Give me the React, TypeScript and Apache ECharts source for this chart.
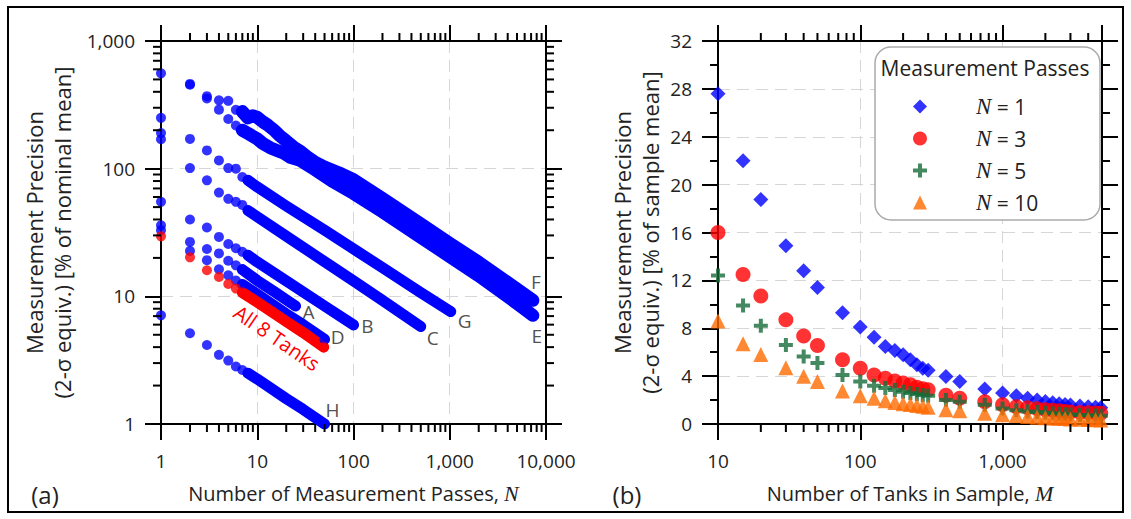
import React, { useEffect, useRef } from 'react';
import * as echarts from 'echarts';

// ---------------- Panel (a): precision vs number of passes N ----------------
const tankA_pts = [[1, 36], [2, 26.7], [3, 23.5], [4, 21.7], [5, 19], [6, 17.5], [7, 16.2]];
const tankA_band = [[7, 16.2], [10, 13.3], [15, 10.9], [20, 9.4], [25, 8.4]];
const tankB_pts = [[1, 55], [2, 40], [3, 34.6], [4, 29.2], [5, 25.7], [6, 23.8], [7, 22.3], [8, 21]];
const tankB_band = [[8, 21], [10, 18.6], [20, 13.2], [50, 8.4], [100, 5.97]];
const tankC_pts = [[1, 170], [2, 101], [3, 81], [4, 65], [5, 58], [6, 55], [7, 52], [8, 47]];
const tankC_band = [[8, 47], [10, 42], [20, 29.6], [50, 18.7], [100, 13.2], [200, 9.3], [499, 5.8]];
const tankD_pts = [[1, 33], [2, 22.7], [3, 19.2], [4, 16.3], [5, 14.6], [6, 13.3], [7, 12.4]];
const tankD_band = [[7, 12.4], [10, 10.4], [20, 7.3], [30, 6.0], [50, 4.6]];
const tankE_pts = [[1, 190], [2, 455], [3, 355], [4, 290], [5, 245], [6, 218], [7, 200]];
const tankE_band = [[7, 200], [8, 189], [10, 171], [11.5, 157], [13.6, 146], [16, 139], [19, 132], [22, 123], [28, 116], [40, 98], [60, 80], [100, 64], [200, 46], [500, 29], [1000, 20.5], [2000, 14.5], [5000, 8.8], [7300, 7.1]];
const tankF_pts = [[1, 558], [2, 461], [3, 370], [4, 343], [5, 340], [6, 289], [7, 280]];
const tankF_band = [[7, 280], [8, 250], [9, 260], [10, 252], [11.5, 232], [13, 218], [15, 200], [17, 182], [20, 165], [24, 147], [28, 137], [33, 124], [40, 112], [50, 103], [70, 93], [100, 82], [200, 58.5], [500, 37], [1000, 26], [2000, 18.5], [5000, 11.4], [7300, 9.3]];
const tankG_pts = [[1, 250], [2, 171], [3, 139], [4, 116], [5, 101], [6, 100], [7, 86], [8, 81]];
const tankG_band = [[8, 81], [10, 72], [20, 51], [50, 33], [100, 23.5], [200, 16.8], [500, 10.7], [1024, 7.6]];
const tankH_pts = [[1, 7.1], [2, 5.14], [3, 4.16], [4, 3.48], [5, 3.14], [6, 2.82], [7, 2.65], [8, 2.5]];
const tankH_band = [[8, 2.5], [10, 2.25], [20, 1.58], [30, 1.3], [50, 1.0]];
const all8_pts = [[1, 29.5], [2, 20.2], [3, 16.0], [4, 14.2], [5, 12.5], [6, 11.5], [7, 10.7]];
const all8_band = [[7, 10.7], [10, 9.0], [20, 6.35], [30, 5.2], [49, 4.0]];

const tankLabels = ['A', 'B', 'C', 'D', 'E', 'F', 'G', 'H'];

// ---------------- Panel (b): precision vs number of tanks M ----------------
const tankCounts = [10, 15, 20, 30, 40, 50, 75, 100, 125, 150, 175, 200, 225, 250, 275, 300, 400, 500, 750, 1000, 1250, 1500, 1750, 2000, 2250, 2500, 2750, 3000, 3500, 4000, 4500, 4900];
const precN1 = [27.6, 22.0, 18.75, 14.9, 12.8, 11.4, 9.3, 8.1, 7.25, 6.47, 6.14, 5.78, 5.36, 4.94, 4.65, 4.5, 3.97, 3.55, 2.92, 2.58, 2.35, 2.15, 2.0, 1.88, 1.78, 1.7, 1.63, 1.58, 1.5, 1.45, 1.4, 1.35];
const precN3 = [16.0, 12.5, 10.7, 8.7, 7.36, 6.55, 5.36, 4.66, 4.1, 3.83, 3.6, 3.42, 3.28, 3.08, 2.95, 2.86, 2.4, 2.15, 1.85, 1.6, 1.45, 1.35, 1.27, 1.2, 1.15, 1.1, 1.05, 1.0, 0.97, 0.95, 0.92, 0.9];
const precN5 = [12.4, 9.9, 8.2, 6.6, 5.65, 5.1, 4.1, 3.55, 3.2, 3.0, 2.85, 2.7, 2.6, 2.5, 2.42, 2.35, 2.0, 1.85, 1.6, 1.3, 1.15, 1.05, 1.0, 0.95, 0.9, 0.85, 0.82, 0.8, 0.75, 0.72, 0.7, 0.68];
const precN10 = [8.6, 6.7, 5.8, 4.7, 4.0, 3.55, 2.75, 2.35, 2.15, 1.95, 1.8, 1.7, 1.62, 1.55, 1.48, 1.4, 1.2, 1.1, 0.9, 0.78, 0.7, 0.62, 0.57, 0.52, 0.5, 0.47, 0.45, 0.42, 0.4, 0.37, 0.35, 0.33];
const passNames = ['N = 1', 'N = 3', 'N = 5', 'N = 10'];

// axis minor tick values (log axes)
const minorTicksA_x = [2, 3, 4, 5, 6, 7, 8, 9, 20, 30, 40, 50, 60, 70, 80, 90, 200, 300, 400, 500, 600, 700, 800, 900, 2000, 3000, 4000, 5000, 6000, 7000, 8000, 9000];
const minorTicksA_y = [2, 3, 4, 5, 6, 7, 8, 9, 20, 30, 40, 50, 60, 70, 80, 90, 200, 300, 400, 500, 600, 700, 800, 900];
const minorTicksB_x = [20, 30, 40, 50, 60, 70, 80, 90, 200, 300, 400, 500, 600, 700, 800, 900, 2000, 3000, 4000];

const FONT = "'Open Sans', 'Noto Sans', sans-serif";
const SERIF = "'Liberation Serif', 'DejaVu Serif', serif";
const TXT = '#222';
const BLUE = '#0000FF';
const RED = '#FF0000';
const GREEN = '#176B38';
const ORANGE = '#FF6A00';
const PLUS = 'path://M5,0H9V5H14V9H9V14H5V9H0V5H5Z';

const fmtLog = (v: number) => {
  const l = Math.log10(v);
  if (Math.abs(l - Math.round(l)) > 1e-6) return '';
  return Math.round(v).toLocaleString('en-US');
};

const mkAxisLine = () => ({ show: true, onZero: false, lineStyle: { color: '#000', width: 2 } });
const mkTick = () => ({ show: true, length: 16, lineStyle: { color: '#000', width: 2 } });
const mkMinor = () => ({ show: true, splitNumber: 2, length: 8, lineStyle: { color: '#000', width: 2 } });
const mkGrid = () => ({ show: true, lineStyle: { color: '#d6d6d6', width: 1, type: [12, 7] } });
const labelStyle = { fontFamily: FONT, fontSize: 19, color: TXT };
const mkName = (size: number) => ({
  fontFamily: FONT, fontSize: size, color: TXT, lineHeight: 28,
  rich: { n: { fontFamily: SERIF, fontStyle: 'italic', fontSize: size + 2, color: TXT } },
});

function tankSeries(name: string, pts: number[][], band: number[][], color: string, width: number, endLabel: any) {
  const end = band[band.length - 1];
  return [
    {
      name: name + ' trace', type: 'line', xAxisIndex: 0, yAxisIndex: 0, data: band,
      showSymbol: false, symbol: 'none', silent: true, z: 2,
      lineStyle: { color, width, cap: 'round', join: 'round' },
    },
    {
      name, type: 'scatter', xAxisIndex: 0, yAxisIndex: 0, symbol: 'circle', symbolSize: 10, silent: true, z: 3,
      itemStyle: { color },
      data: [...pts.map((p) => ({ value: p })), { value: end, label: endLabel }],
    },
  ];
}

const lbl = (text: string, offset: number[]) => ({
  show: !!text, position: 'inside', formatter: text, offset,
  fontFamily: FONT, fontSize: 19, color: TXT,
});

const rightSeries = [precN1, precN3, precN5, precN10].map((arr, i) => ({
  name: passNames[i],
  type: 'scatter', xAxisIndex: 2, yAxisIndex: 2, silent: true, z: 3 + i,
  symbol: ['diamond', 'circle', PLUS, 'triangle'][i],
  symbolSize: [15, 15, 14, 15][i],
  itemStyle: { color: [BLUE, RED, GREEN, ORANGE][i] },
  data: tankCounts.map((m, j) => [m, arr[j]]),
}));

const baseGraphic: any[] = [
  { type: 'rect', z: 8, silent: true, shape: { x: 8, y: 7, width: 1115, height: 505 }, style: { fill: 'none', stroke: '#000', lineWidth: 2 } },
  { type: 'rect', z: 8, silent: true, shape: { x: 875, y: 47, width: 225, height: 173, r: 16 }, style: { fill: '#fff', stroke: '#aaa', lineWidth: 1.5 } },
  { type: 'text', z: 9, x: 985, y: 68, style: { text: 'Measurement Passes', font: `21px ${FONT}`, fill: TXT, textAlign: 'center', textVerticalAlign: 'middle' } },
  { type: 'text', z: 9, x: 45, y: 494, style: { text: '(a)', font: `24px ${FONT}`, fill: TXT, textAlign: 'center', textVerticalAlign: 'middle' } },
  { type: 'text', z: 9, x: 627, y: 494, style: { text: '(b)', font: `24px ${FONT}`, fill: TXT, textAlign: 'center', textVerticalAlign: 'middle' } },
  { type: 'text', z: 9, x: 277, y: 338, rotation: -0.6, style: { text: 'All 8 Tanks', font: `20px ${FONT}`, fill: RED, textAlign: 'center', textVerticalAlign: 'middle' } },
];

const option: any = {
  animation: false,
  backgroundColor: '#fff',
  grid: [
    { left: 161, top: 41, width: 385, height: 383, outerBoundsMode: 'none' },
    { left: 718, top: 41, width: 384, height: 383, outerBoundsMode: 'none' },
  ],
  xAxis: [
    {
      gridIndex: 0, type: 'log', logBase: 10, min: 1, max: 10000, position: 'bottom',
      axisLine: mkAxisLine(), axisTick: mkTick(), splitLine: mkGrid(),
      axisLabel: { ...labelStyle, margin: 27, formatter: fmtLog },
      name: 'Number of Measurement Passes, {n|N}', nameLocation: 'middle', nameGap: 55, nameTextStyle: mkName(20),
    },
    {
      gridIndex: 0, type: 'log', logBase: 10, min: 1, max: 10000, position: 'top',
      axisLine: mkAxisLine(), axisTick: mkTick(), splitLine: { show: false }, axisLabel: { show: false },
    },
    {
      gridIndex: 1, type: 'log', logBase: 10, min: 10, max: 5000, position: 'bottom',
      axisLine: mkAxisLine(), axisTick: mkTick(), splitLine: mkGrid(),
      axisLabel: { ...labelStyle, margin: 27, formatter: fmtLog },
      name: 'Number of Tanks in Sample, {n|M}', nameLocation: 'middle', nameGap: 55, nameTextStyle: mkName(20),
    },
    {
      gridIndex: 1, type: 'log', logBase: 10, min: 10, max: 5000, position: 'top',
      axisLine: mkAxisLine(), axisTick: mkTick(), splitLine: { show: false }, axisLabel: { show: false },
    },
  ],
  yAxis: [
    {
      gridIndex: 0, type: 'log', logBase: 10, min: 1, max: 1000, position: 'left',
      axisLine: mkAxisLine(), axisTick: mkTick(), splitLine: mkGrid(),
      axisLabel: { ...labelStyle, margin: 26, formatter: fmtLog },
      name: 'Measurement Precision\n(2-σ equiv.) [% of nominal mean]', nameLocation: 'middle', nameRotate: 90,
      nameGap: 85, nameTextStyle: mkName(22),
    },
    {
      gridIndex: 0, type: 'log', logBase: 10, min: 1, max: 1000, position: 'right',
      axisLine: mkAxisLine(), axisTick: mkTick(), splitLine: { show: false }, axisLabel: { show: false },
    },
    {
      gridIndex: 1, type: 'value', min: 0, max: 32, interval: 4, position: 'left',
      axisLine: mkAxisLine(), axisTick: mkTick(), minorTick: mkMinor(), splitLine: mkGrid(),
      axisLabel: { ...labelStyle, margin: 26 },
      name: 'Measurement Precision\n(2-σ equiv.) [% of sample mean]', nameLocation: 'middle', nameRotate: 90,
      nameGap: 54, nameTextStyle: mkName(22),
    },
    {
      gridIndex: 1, type: 'value', min: 0, max: 32, interval: 4, position: 'right',
      axisLine: mkAxisLine(), axisTick: mkTick(), minorTick: mkMinor(), splitLine: { show: false }, axisLabel: { show: false },
    },
  ],
  legend: {
    data: passNames, orient: 'vertical', left: 913, top: 95, padding: 0,
    itemWidth: 14, itemHeight: 14, itemGap: 9, selectedMode: false, z: 10, symbolKeepAspect: true,
    formatter: (name: string) => '{sp|}' + name.replace('N', '{n|N}'),
    textStyle: {
      fontFamily: FONT, fontSize: 21, color: TXT, lineHeight: 22,
      rich: {
        sp: { width: 44, lineHeight: 22 },
        n: { fontFamily: SERIF, fontStyle: 'italic', fontSize: 23, lineHeight: 22, color: TXT },
      },
    },
  },
  graphic: baseGraphic,
  series: [
    ...tankSeries('Tank F', tankF_pts, tankF_band, BLUE, 13, lbl(tankLabels[5], [3, -18])),
    ...tankSeries('Tank E', tankE_pts, tankE_band, BLUE, 13, lbl(tankLabels[4], [4, 21])),
    ...tankSeries('Tank G', tankG_pts, tankG_band, BLUE, 11, lbl(tankLabels[6], [14, 9])),
    ...tankSeries('Tank C', tankC_pts, tankC_band, BLUE, 11, lbl(tankLabels[2], [12, 11])),
    ...tankSeries('Tank B', tankB_pts, tankB_band, BLUE, 11, lbl(tankLabels[1], [14, 1])),
    ...tankSeries('Tank A', tankA_pts, tankA_band, BLUE, 11, lbl(tankLabels[0], [13, 6])),
    ...tankSeries('Tank D', tankD_pts, tankD_band, BLUE, 11, lbl(tankLabels[3], [13, -2])),
    ...tankSeries('Tank H', tankH_pts, tankH_band, BLUE, 11, lbl(tankLabels[7], [8, -14])),
    ...tankSeries('All 8 Tanks', all8_pts, all8_band, RED, 11, lbl('', [0, 0])),
    ...rightSeries,
  ],
};

// minor ticks of the log axes, positioned through the axes' own scales
function minorTickGraphics(chart: any) {
  const els: any[] = [];
  const L = 8;
  const tickRect = (x: number, y: number, w: number, h: number) => {
    if ([x, y, w, h].every((n) => isFinite(n))) {
      els.push({ type: 'rect', z: 8, silent: true, shape: { x, y, width: w, height: h }, style: { fill: '#000' } });
    }
  };
  const px = (xAxisIndex: number, v: number) => chart.convertToPixel({ xAxisIndex }, v);
  const py = (yAxisIndex: number, v: number) => chart.convertToPixel({ yAxisIndex }, v);
  // panel (a)
  const aBottom = py(0, 1), aTop = py(0, 1000), aLeft = px(0, 1), aRight = px(0, 10000);
  minorTicksA_x.forEach((v) => {
    const x = px(0, v);
    tickRect(x - 1, aBottom, 2, L);
    tickRect(x - 1, aTop - L, 2, L);
  });
  minorTicksA_y.forEach((v) => {
    const y = py(0, v);
    tickRect(aLeft - L, y - 1, L, 2);
    tickRect(aRight, y - 1, L, 2);
  });
  // panel (b)
  const bBottom = py(2, 0), bTop = py(2, 32);
  minorTicksB_x.forEach((v) => {
    const x = px(2, v);
    tickRect(x - 1, bBottom, 2, L);
    tickRect(x - 1, bTop - L, 2, L);
  });
  return els;
}

export default function App() {
  const ref = useRef<HTMLDivElement>(null);
  useEffect(() => {
    const chart = echarts.init(ref.current as HTMLDivElement, null, { renderer: 'svg' });
    chart.setOption(option);
    try {
      const extra = minorTickGraphics(chart);
      if (extra.length) chart.setOption({ graphic: [...baseGraphic, ...extra] });
    } catch (e) {
      // keep the chart as drawn if the pixel conversion is unavailable
    }
    return () => chart.dispose();
  }, []);
  return <div ref={ref} style={{ position: 'absolute', left: 0, top: 0, width: 1131, height: 519 }} />;
}
